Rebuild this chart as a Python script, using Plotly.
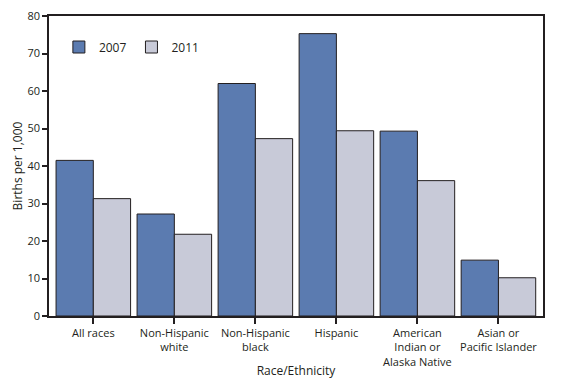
import plotly.graph_objects as go

categories = ["All races", "Non-Hispanic<br>white", "Non-Hispanic<br>black", "Hispanic",
              "American<br>Indian or<br>Alaska Native", "Asian or<br>Pacific Islander"]
rate_2007 = [41.5, 27.2, 62.0, 75.3, 49.3, 14.9]
rate_2011 = [31.3, 21.8, 47.3, 49.4, 36.1, 10.2]
y_ticks = [0, 10, 20, 30, 40, 50, 60, 70, 80]

ink = "#231f20"
font = dict(family="Open Sans, Lato, sans-serif", size=11, color=ink)

fig = go.Figure()
fig.add_trace(go.Bar(name="2007", x=categories, y=rate_2007,
                     marker=dict(color="#5b7bb0", line=dict(color=ink, width=1))))
fig.add_trace(go.Bar(name="2011", x=categories, y=rate_2011,
                     marker=dict(color="#c8cad8", line=dict(color=ink, width=1))))

fig.update_layout(
    width=582, height=379,
    margin=dict(l=49, r=39, t=16, b=63),
    paper_bgcolor="white", plot_bgcolor="white",
    font=font,
    barmode="group", bargap=0.08, bargroupgap=0,
    showlegend=True,
    legend=dict(orientation="h", x=0.02, y=0.945, xanchor="left", yanchor="top",
                bgcolor="rgba(0,0,0,0)", font=dict(size=12, color=ink),
                itemwidth=30, traceorder="normal"),
    xaxis=dict(title=dict(text="Race/Ethnicity", standoff=6, font=dict(size=12)),
               automargin=False,
               range=[-0.547, 5.55], showline=True, linecolor=ink, linewidth=1.5,
               mirror=True, ticks="outside", ticklen=6, tickcolor=ink, tickwidth=1.5,
               showgrid=False, tickfont=dict(size=11)),
    yaxis=dict(title=dict(text="Births per 1,000", standoff=2, font=dict(size=12)),
               automargin=False,
               range=[0, 80], tickvals=y_ticks, showline=True, linecolor=ink, linewidth=1.5,
               mirror=True, ticks="outside", ticklen=5, tickcolor=ink, tickwidth=1.5,
               showgrid=False, zeroline=False, tickfont=dict(size=11)),
)

fig.write_html("out.html", config={"displayModeBar": False},
               post_script="document.body.style.margin='0';")
